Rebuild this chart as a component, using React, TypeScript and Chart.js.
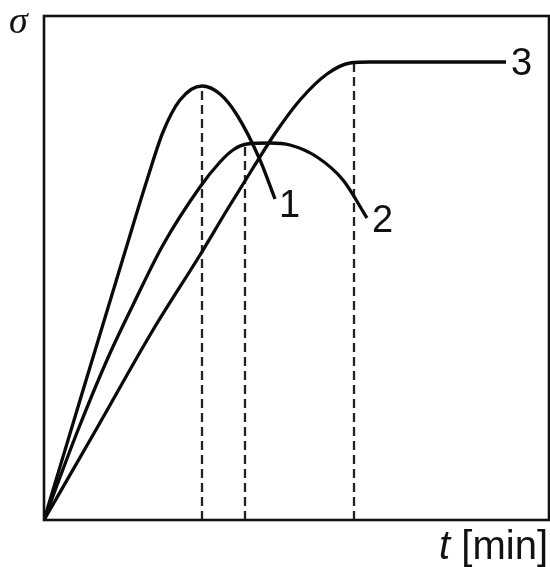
import React, { useEffect, useRef } from "react";
import { Chart, registerables } from "chart.js";

Chart.register(...registerables);

// t (x) and sigma (y) values, in arbitrary units
const curve1X = [0, 40, 80, 103, 119, 136, 158, 176, 193, 216, 231];
const curve1Y = [0, 133, 265, 340, 388, 420, 434, 426, 405, 360, 321];

const curve2X = [0, 34, 63, 89, 119, 156, 176, 189, 203, 226, 246, 273, 299, 323];
const curve2Y = [0, 90, 160, 215, 275, 333, 358, 370, 376, 377, 375, 363, 340, 302];

const curve3X = [0, 53, 109, 156, 183, 209, 232, 256, 283, 306, 326, 462];
const curve3Y = [0, 92, 190, 265, 310, 352, 388, 420, 446, 457, 458, 458];

const curveLabels = ["1", "2", "3"];

// dashed guide lines: t position and height
const guideX = [158, 201, 310];
const guideY = [434, 377, 458];

const xMax = 505;
const yMax = 504;

const yAxisLabel = "σ";
const xAxisVar = "t";
const xAxisUnit = "[min]";

function toPoints(xs: number[], ys: number[]) {
  return xs.map((x, i) => ({ x, y: ys[i] }));
}

export default function App() {
  const canvasRef = useRef<HTMLCanvasElement | null>(null);

  useEffect(() => {
    const canvas = canvasRef.current;
    if (!canvas) return;

    const curveDs = [
      toPoints(curve1X, curve1Y),
      toPoints(curve2X, curve2Y),
      toPoints(curve3X, curve3Y),
    ].map((data) => ({
      data,
      showLine: true,
      borderColor: "#0a0a0a",
      borderWidth: 3.3,
      pointRadius: 0,
      cubicInterpolationMode: "monotone" as const,
      fill: false,
    }));

    const guideDs = guideX.map((gx, i) => ({
      data: [
        { x: gx, y: 0 },
        { x: gx, y: guideY[i] },
      ],
      showLine: true,
      borderColor: "#222222",
      borderWidth: 2.3,
      borderDash: [9, 5],
      pointRadius: 0,
      tension: 0,
      fill: false,
    }));

    const labelOffsets = [
      [4, 18],
      [5, 14],
      [5, 13],
    ];

    const decorPlugin = {
      id: "decor",
      afterDraw(chart: any) {
        const ctx = chart.ctx as CanvasRenderingContext2D;
        const { left, top, right, bottom } = chart.chartArea;
        ctx.save();
        // frame
        ctx.strokeStyle = "#111111";
        ctx.lineWidth = 2.6;
        ctx.strokeRect(left, top, right - left, bottom - top);

        // curve labels
        ctx.fillStyle = "#111111";
        ctx.textBaseline = "alphabetic";
        ctx.textAlign = "left";
        ctx.font = '38px "Liberation Sans", Arial, sans-serif';
        for (let i = 0; i < 3; i++) {
          const meta = chart.getDatasetMeta(i);
          const pts = meta.data;
          const last = pts[pts.length - 1];
          ctx.fillText(curveLabels[i], last.x + labelOffsets[i][0], last.y + labelOffsets[i][1]);
        }

        // y axis symbol
        ctx.font = 'italic 38px "Liberation Serif", "Times New Roman", serif';
        ctx.textAlign = "left";
        ctx.fillText(yAxisLabel, left - 35, top + 17);

        // x axis label
        ctx.font = '40px "Liberation Sans", Arial, sans-serif';
        ctx.textAlign = "right";
        ctx.fillText(xAxisUnit, right - 1, bottom + 39);
        const unitW = ctx.measureText(xAxisUnit).width;
        ctx.font = 'italic 40px "Liberation Sans", Arial, sans-serif';
        ctx.fillText(xAxisVar + " ", right - 1 - unitW, bottom + 39);
        ctx.restore();
      },
    };

    const chart = new Chart(canvas, {
      type: "scatter",
      data: { datasets: [...curveDs, ...guideDs] as any },
      options: {
        animation: false,
        responsive: false,
        devicePixelRatio: 1,
        layout: { padding: { left: 44, right: 1, top: 16, bottom: 47 } },
        plugins: {
          legend: { display: false },
          tooltip: { enabled: false },
        },
        scales: {
          x: { type: "linear", min: 0, max: xMax, display: false },
          y: { type: "linear", min: 0, max: yMax, display: false },
        },
      },
      plugins: [decorPlugin],
    });

    return () => chart.destroy();
  }, []);

  return (
    <div style={{ position: "absolute", left: 0, top: 0, width: 550, height: 567, background: "#ffffff" }}>
      <canvas ref={canvasRef} width={550} height={567} style={{ display: "block" }} />
    </div>
  );
}
